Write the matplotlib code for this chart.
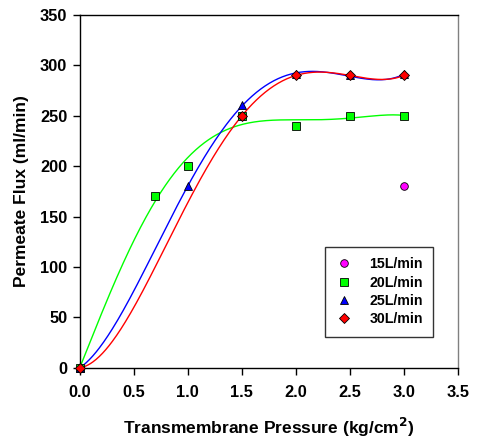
import matplotlib
matplotlib.use("Agg")
import matplotlib.pyplot as plt
import numpy as np

plt.rcParams["font.family"] = ["Liberation Sans", "DejaVu Sans"]
plt.rcParams["font.weight"] = "bold"

# 측정값
x15 = [0.0, 3.0]
y15 = [0, 180]
x20 = [0.0, 0.7, 1.0, 1.5, 2.0, 2.5, 3.0]
y20 = [0, 170, 200, 250, 240, 250, 250]
x25 = [0.0, 1.0, 1.5, 2.0, 2.5, 3.0]
y25 = [0, 180, 261, 291, 290, 291]
x30 = [0.0, 1.5, 2.0, 2.5, 3.0]
y30 = [0, 250, 290, 290, 290]

fig = plt.figure(figsize=(4.78, 4.4), dpi=100)
ax = fig.add_axes([0.167, 0.164, 0.791, 0.802])

xs = np.linspace(0, 3.0, 300)
for xd, yd, col, deg in [(x20, y20, "#00ff00", 5), (x25, y25, "#0000ff", 4),
                         (x30, y30, "#ff0000", 4)]:
    coef = np.polyfit(xd, yd, deg)
    ax.plot(xs, np.polyval(coef, xs), color=col, linewidth=1, zorder=2)

series = [
    (x15, y15, "o", "#ff00ff", "15L/min"),
    (x20, y20, "s", "#00ff00", "20L/min"),
    (x25, y25, "^", "#0000ff", "25L/min"),
    (x30, y30, "D", "#ff0000", "30L/min"),
]
for xd, yd, mk, col, lab in series:
    ax.plot(xd, yd, linestyle="none", marker=mk, markersize=5.5 if mk != "D" else 5,
            markerfacecolor=col, markeredgecolor="black", markeredgewidth=0.6,
            label=lab, clip_on=False, zorder=3)

ax.set_xlim(0, 3.5)
ax.set_ylim(0, 350)
ax.set_xticks(np.arange(0, 3.51, 0.5))
ax.set_xticklabels([f"{v:.1f}" for v in np.arange(0, 3.51, 0.5)])
ax.set_yticks(range(0, 351, 50))
ax.tick_params(direction="out", length=5, width=1, labelsize=11.8, pad=4)
ax.tick_params(axis="x", pad=7)
for s in ax.spines.values():
    s.set_linewidth(1)
ax.spines["right"].set_color("#808080")

ax.set_xlabel("Transmembrane Pressure (kg/cm$^{\\mathbf{2}}$)", fontsize=12.5,
              fontweight="bold", labelpad=12)
ax.set_ylabel("Permeate Flux (ml/min)", fontsize=12.5, fontweight="bold", labelpad=8)

leg = ax.legend(loc="lower right", bbox_to_anchor=(0.935, 0.088), fontsize=10.2,
                frameon=True, fancybox=False, edgecolor="black",
                handletextpad=1.2, borderpad=0.75, labelspacing=0.3,
                borderaxespad=0, handlelength=1.2)
leg.get_frame().set_linewidth(1)

fig.savefig("out.png", dpi=100)
